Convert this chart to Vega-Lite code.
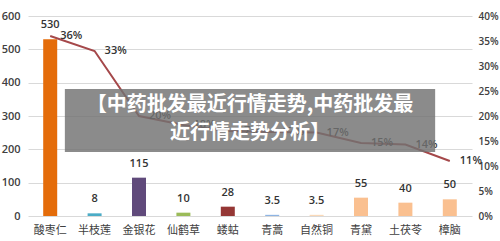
{
  "$schema": "https://vega.github.io/schema/vega-lite/v6.json",
  "width": 444,
  "height": 200,
  "autosize": {"type": "none"},
  "padding": {"left": 28, "top": 16, "right": 28, "bottom": 25},
  "background": "white",
  "config": {"view": {"stroke": null}, "font": "Open Sans"},
  "datasets": {
    "main": [
      {"name": "酸枣仁", "count": 530, "pct": 0.36},
      {"name": "半枝莲", "count": 8, "pct": 0.33},
      {"name": "金银花", "count": 115, "pct": 0.20},
      {"name": "仙鹤草", "count": 10, "pct": 0.182},
      {"name": "蝼蛄", "count": 28, "pct": 0.17},
      {"name": "青蒿", "count": 3.5, "pct": 0.168},
      {"name": "自然铜", "count": 3.5, "pct": 0.167},
      {"name": "青黛", "count": 55, "pct": 0.146},
      {"name": "土茯苓", "count": 40, "pct": 0.143},
      {"name": "樟脑", "count": 50, "pct": 0.11}
    ],
    "band": [{"x0": 0.83, "x1": 9.17, "y0": 192, "y1": 381}],
    "caption": [
      {"line": "【中药批发最近行情走势,中药批发最", "cx": 5.0, "cy": 333},
      {"line": "近行情走势分析】", "cx": 5.0, "cy": 249}
    ]
  },
  "layer": [
    {
      "data": {"name": "main"},
      "encoding": {
        "x": {
          "field": "name", "type": "nominal", "sort": null,
          "scale": {"paddingInner": 0, "paddingOuter": 0},
          "axis": {
            "title": null, "labelAngle": 0, "domain": false, "ticks": false,
            "labelPadding": 8, "labelFont": "Noto Sans CJK SC", "labelFontSize": 11,
            "labelColor": "#404040"
          }
        },
        "y": {
          "field": "count", "type": "quantitative",
          "scale": {"domain": [0, 600], "nice": false},
          "axis": {
            "title": null, "values": [0, 100, 200, 300, 400, 500, 600],
            "domain": false, "ticks": false, "labelPadding": 8,
            "labelFontSize": 11, "labelColor": "#404040", "labelFontWeight": 600,
            "gridColor": "#D9D9D9"
          }
        }
      },
      "layer": [
        {
          "mark": {"type": "bar", "width": 14},
          "encoding": {
            "color": {
              "field": "name", "type": "nominal", "legend": null,
              "scale": {
                "domain": ["酸枣仁", "半枝莲", "金银花", "仙鹤草", "蝼蛄", "青蒿", "自然铜", "青黛", "土茯苓", "樟脑"],
                "range": ["#E46C0A", "#4BACC6", "#604A7B", "#9BBB59", "#953735", "#8EB4E3", "#FAD9B8", "#FAC090", "#FAC090", "#FAC090"]
              }
            }
          }
        },
        {
          "mark": {"type": "text", "dy": -9, "fontSize": 11, "fontWeight": 600, "color": "#333333", "baseline": "bottom"},
          "encoding": {"text": {"field": "count", "type": "quantitative"}}
        }
      ]
    },
    {
      "data": {"name": "main"},
      "encoding": {
        "x": {"field": "name", "type": "nominal", "sort": null, "scale": {"paddingInner": 0, "paddingOuter": 0}, "axis": null},
        "y": {
          "field": "pct", "type": "quantitative",
          "scale": {"domain": [0, 0.4], "nice": false},
          "axis": {
            "orient": "right", "title": null, "format": ".0%",
            "values": [0, 0.05, 0.1, 0.15, 0.2, 0.25, 0.3, 0.35, 0.4],
            "grid": false, "domain": false, "ticks": false, "labelPadding": 6,
            "labelFontSize": 10, "labelColor": "#404040", "labelFontWeight": 600
          }
        }
      },
      "layer": [
        {"mark": {"type": "line", "color": "#A5484A", "strokeWidth": 2}},
        {
          "mark": {"type": "text", "align": "left", "dx": 10, "baseline": "middle", "fontSize": 11, "fontWeight": 600, "color": "#333333"},
          "encoding": {"text": {"field": "pct", "type": "quantitative", "format": ".0%"}}
        }
      ]
    },
    {
      "layer": [
        {
          "data": {"name": "band"},
          "mark": {"type": "rect", "color": "#727272", "opacity": 0.82},
          "encoding": {
            "x": {"field": "x0", "type": "quantitative", "scale": {"domain": [0, 10], "nice": false}, "axis": null},
            "x2": {"field": "x1"},
            "y": {"field": "y0", "type": "quantitative", "scale": {"domain": [0, 600], "nice": false}, "axis": null},
            "y2": {"field": "y1"}
          }
        },
        {
          "data": {"name": "caption"},
          "mark": {"type": "text", "font": "Noto Sans CJK SC", "fontSize": 20, "fontWeight": "bold", "color": "white", "align": "center", "baseline": "middle"},
          "encoding": {
            "x": {"field": "cx", "type": "quantitative", "scale": {"domain": [0, 10], "nice": false}, "axis": null},
            "y": {"field": "cy", "type": "quantitative", "scale": {"domain": [0, 600], "nice": false}, "axis": null},
            "text": {"field": "line"}
          }
        }
      ]
    }
  ],
  "resolve": {"scale": {"x": "independent", "y": "independent"}}
}
